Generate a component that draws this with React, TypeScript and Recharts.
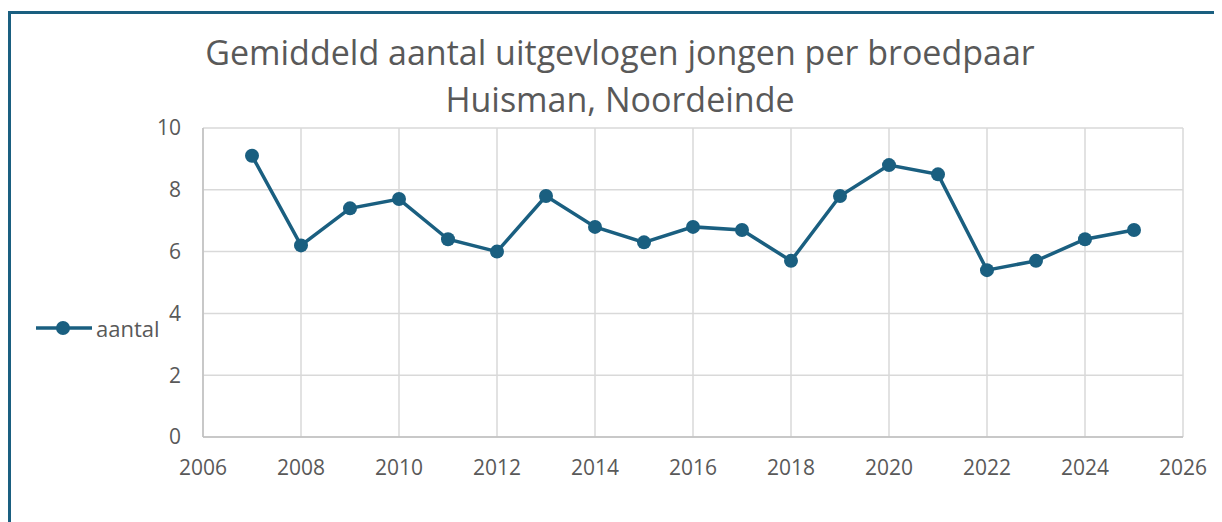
import { CartesianGrid, Legend, Line, LineChart, XAxis, YAxis } from "recharts";

const years = [
  2007, 2008, 2009, 2010, 2011, 2012, 2013, 2014, 2015, 2016, 2017, 2018, 2019,
  2020, 2021, 2022, 2023, 2024, 2025,
];
const aantal = [
  9.1, 6.2, 7.4, 7.7, 6.4, 6.0, 7.8, 6.8, 6.3, 6.8, 6.7, 5.7, 7.8, 8.8, 8.5,
  5.4, 5.7, 6.4, 6.7,
];
const xTicks = [2006, 2008, 2010, 2012, 2014, 2016, 2018, 2020, 2022, 2024, 2026];
const yTicks = [0, 2, 4, 6, 8, 10];
const titleLines = [
  "Gemiddeld aantal uitgevlogen jongen per broedpaar",
  "Huisman, Noordeinde",
];

const BLUE = "#1a5f80";
const TEXT = "#595959";
const FONT = "'Open Sans', sans-serif";

const data = years.map((year, i) => ({ year, aantal: aantal[i] }));

function LegendContent() {
  return (
    <div style={{ display: "flex", alignItems: "center", fontFamily: FONT }}>
      <svg width={56} height={16}>
        <line x1={0} y1={8} x2={56} y2={8} stroke={BLUE} strokeWidth={3.5} />
        <circle cx={27} cy={8} r={7} fill={BLUE} />
      </svg>
      <span style={{ marginLeft: 4, fontSize: 22, color: TEXT }}>aantal</span>
    </div>
  );
}

export default function App() {
  return (
    <div style={{ position: "relative", width: 1214, height: 514 }}>
      <div
        style={{
          position: "absolute",
          left: 0,
          top: 3,
          width: 1214,
          height: 511,
          borderLeft: `3px solid ${BLUE}`,
          borderTop: `3px solid ${BLUE}`,
          boxSizing: "border-box",
        }}
      />
      <div
        style={{
          position: "absolute",
          left: 0,
          top: 21,
          width: 1224,
          textAlign: "center",
          fontFamily: FONT,
          fontSize: 34,
          lineHeight: "47px",
          color: TEXT,
        }}
      >
        {titleLines.map((line) => (
          <div key={line}>{line}</div>
        ))}
      </div>
      <div style={{ position: "absolute", left: 0, top: 0 }}>
        <LineChart
          width={1214}
          height={514}
          data={data}
          margin={{ top: 120, right: 39, bottom: 55, left: 135 }}
        >
          <CartesianGrid stroke="#d9d9d9" strokeWidth={1.5} />
          <XAxis
            dataKey="year"
            type="number"
            domain={[2006, 2026]}
            ticks={xTicks}
            height={30}
            tickLine={false}
            tickSize={6}
            tickMargin={17}
            axisLine={{ stroke: "#bfbfbf", strokeWidth: 1.5 }}
            tick={{ fontSize: 21, fill: TEXT, fontFamily: FONT }}
          />
          <YAxis
            domain={[0, 10]}
            ticks={yTicks}
            width={60}
            tickLine={false}
            tickSize={6}
            tickMargin={16}
            axisLine={{ stroke: "#bfbfbf", strokeWidth: 1.5 }}
            tick={{ fontSize: 21, fill: TEXT, fontFamily: FONT }}
          />
          <Legend
            layout="horizontal"
            align="center"
            verticalAlign="middle"
            content={<LegendContent />}
            wrapperStyle={{ left: 28, top: 305, width: "auto" }}
          />
          <Line
            dataKey="aantal"
            stroke={BLUE}
            strokeWidth={3.5}
            dot={{ r: 7, fill: BLUE, stroke: BLUE, strokeWidth: 0 }}
            activeDot={false}
            isAnimationActive={false}
          />
        </LineChart>
      </div>
    </div>
  );
}
